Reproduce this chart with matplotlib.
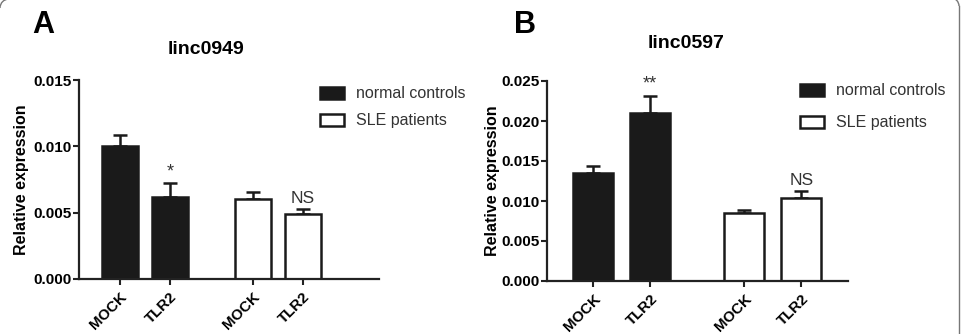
import matplotlib.pyplot as plt
from matplotlib.patches import Arc
from matplotlib.lines import Line2D
from matplotlib.transforms import IdentityTransform

plt.rcParams['font.family'] = ['Liberation Sans', 'DejaVu Sans']

# groups: normal controls MOCK/TLR2, SLE patients MOCK/TLR2
tick_labels = ['MOCK', 'TLR2', 'MOCK', 'TLR2']
series = ['normal controls', 'SLE patients']

a_title = 'linc0949'
a_means = [0.0100, 0.0062, 0.0060, 0.0049]
a_err = [0.00086, 0.00100, 0.00055, 0.00040]
a_marks = ['', '*', '', 'NS']

b_title = 'linc0597'
b_means = [0.01346, 0.02096, 0.00854, 0.01042]
b_err = [0.00091, 0.00221, 0.00029, 0.00079]
b_marks = ['', '**', '', 'NS']

W, H = 963, 334
fig = plt.figure(figsize=(W / 100, H / 100), dpi=100)


def px(l, t, r, b):
    return [l / W, 1 - b / H, (r - l) / W, (b - t) / H]


def panel(rect, letter, letter_xy, title, title_xy, means, err, marks, ymax, nt, gap, xlim,
          width, leg_xy, leg_space):
    ax = fig.add_axes(rect)
    x = [0, 1, 1 + gap, 2 + gap]
    colors = ['#1a1a1a', '#1a1a1a', 'white', 'white']
    bars = ax.bar(x, means, width=width, color=colors, edgecolor='#1a1a1a', linewidth=1.8, zorder=2)
    ax.errorbar(x, means, yerr=[[0] * 4, err], fmt='none', ecolor='#1a1a1a',
                elinewidth=1.8, capsize=5, capthick=1.8, zorder=1)
    for xi, m, e, s in zip(x, means, err, marks):
        if s:
            ax.text(xi, m + e + ymax * 0.015, s, ha='center', va='bottom',
                    fontsize=12.5 if s == 'NS' else 13, color='#333333')
    ax.set_ylim(0, ymax)
    ax.set_xlim(*xlim)
    ax.set_yticks([ymax * i / nt for i in range(nt + 1)])
    ax.yaxis.set_major_formatter(plt.FormatStrFormatter('%.3f'))
    ax.set_xticks(x)
    ax.set_xticklabels(tick_labels, rotation=45, ha='right', rotation_mode='anchor',
                       fontweight='bold', fontsize=10.8)
    for lab in ax.get_yticklabels():
        lab.set_fontweight('bold')
        lab.set_fontsize(11)
    ax.tick_params(axis='both', direction='out', length=4.5, width=1.5, color='#222222', pad=0.8)
    ax.tick_params(axis='x', pad=3)
    for side in ['top', 'right']:
        ax.spines[side].set_visible(False)
    for side in ['left', 'bottom']:
        ax.spines[side].set_linewidth(1.6)
        ax.spines[side].set_color('#222222')
    ax.set_ylabel('Relative expression', fontweight='bold', fontsize=11.5)
    fig.text(title_xy[0] / W, 1 - title_xy[1] / H, title, fontweight='bold', fontsize=14,
             ha='center', va='center')
    fig.text(letter_xy[0] / W, 1 - letter_xy[1] / H, letter, fontsize=22, fontweight='bold',
             ha='left', va='center')
    leg = ax.legend([bars[0], bars[2]], series, loc='upper left', frameon=False,
                    bbox_to_anchor=(leg_xy[0] / W, 1 - leg_xy[1] / H),
                    bbox_transform=fig.transFigure, fontsize=11.5,
                    handlelength=1.5, handleheight=0.8, labelspacing=leg_space, handletextpad=0.7,
                    borderaxespad=0)
    for t in leg.get_texts():
        t.set_color('#333333')
    return ax


ax_a = panel(px(79, 80, 379, 279), 'A', (32, 25), a_title, (206, 49), a_means,
             a_err, a_marks, 0.015, 3, 1.66, (-0.82, 5.18), 0.72, (314, 80), 0.75)
ax_a.yaxis.labelpad = 3

ax_b = panel(px(547, 81, 848, 281), 'B', (514, 25), b_title, (686, 43), b_means, b_err, b_marks,
             0.025, 5, 1.65, (-0.81, 4.47), 0.70, (794, 77), 1.05)
ax_b.yaxis.labelpad = 1

# rounded frame edges, drawn in pixels (y from bottom)
frame = dict(transform=IdentityTransform(), color='#777777', linewidth=1.0)
fig.add_artist(Line2D([959, 959], [0, 328], **frame))
fig.add_artist(Arc((951, 328), 16, 16, theta1=0, theta2=90, **frame))
fig.add_artist(Arc((9, 326), 18, 18, theta1=90, theta2=180, **frame))

fig.savefig('out.png', dpi=100, facecolor='white')
